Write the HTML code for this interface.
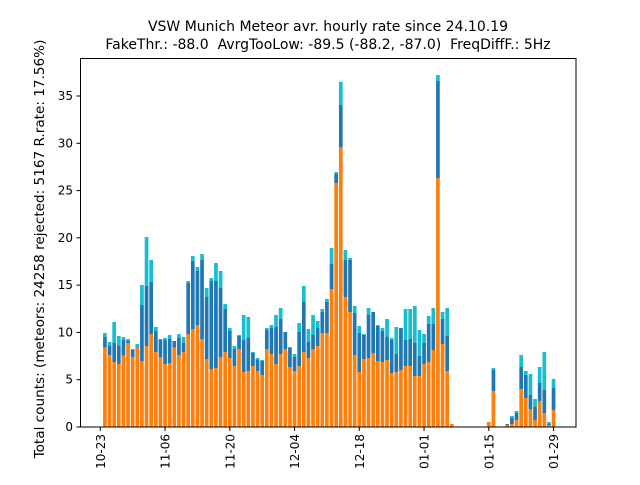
<!DOCTYPE html>
<html><head><meta charset="utf-8"><style>
html,body{margin:0;padding:0;background:#fff;}
svg text{font-family:"DejaVu Sans","Liberation Sans",sans-serif;fill:#000;white-space:pre;}
</style></head><body>
<svg id="s" width="640" height="480" xmlns="http://www.w3.org/2000/svg">
<rect width="640" height="480" fill="#fff"/>
<g id="bars"></g>
<rect x="80.5" y="58.5" width="495.5" height="368.5" fill="none" stroke="#000" stroke-width="1"/>
<text x="328" y="31" font-size="14" text-anchor="middle">VSW Munich Meteor avr. hourly rate since 24.10.19</text>
<text x="328" y="49" font-size="14" text-anchor="middle" xml:space="preserve">FakeThr.: -88.0&#160; AvrgTooLow: -89.5 (-88.2, -87.0)&#160; FreqDiffF.: 5Hz</text>
<text transform="translate(44,249) rotate(-90)" font-size="13.6" text-anchor="middle">Total counts: (meteors: 24258 rejected: 5167 R.rate: 17.56%)</text>
<g id="ax"></g>
</svg>
<script>
var z1=[[383,351,339],[405,377,366],[426,369,306],[432,377,348],[407,360,351],[369,362,357],[411,390,387],[383,380,372],[423,255,195],[378,198,51],[342,186,120],[396,333,321],[411,359,357],[432,359,354],[429,357,345],[383,363,363],[405,354,342],[396,369,351],[342,189,183],[327,123,108],[315,153,141],[357,120,102],[417,231,204],[447,183,174],[444,183,129],[411,204,153],[396,267,252],[414,333,324],[438,387,378],[387,348,345],[456,360,285],[453,354,291],[438,399,396]];
var z2=[[873,838,834],[885,843,840],[807,750,744],[822,744,735],[852,741,705],[822,717,684],[807,756,756],[861,804,801],[873,831,822],[858,756,729],[816,666,618],[834,786,747],[807,765,705],[798,744,723],[759,696,687],[759,666,657],[627,552,504],[309,282,276],[201,75,6],[651,540,510],[696,540,534],[825,699,678],[876,759,738],[837,765,762],[834,705,684],[819,696,696],[843,738,735],[846,753,744],[840,771,717],[879,780,774],[876,822,741],[870,744,744],[858,780,687],[858,777,687],[888,789,678],[888,828,750],[852,789,762],[846,732,708],[810,732,684],[294,3,-15],[792,717,696],[873,768,684],[1032,1032,1032]];
var z3=[[84,246,246,246],[85,153,90,84],[88,255,252,252],[89,252,234,228],[90,240,219,213],[91,147,81,45],[92,174,105,93],[93,207,165,102],[94,240,201,177],[95,183,129,81],[96,219,150,36],[97,255,252,246],[98,210,144,117]];
var bars=[];
z1.forEach(function(b,i){bars.push([i+1,b[0]/3+220,b[1]/3+220,b[2]/3+220]);});
z2.forEach(function(b,i){bars.push([i+34,b[0]/3+80,b[1]/3+80,b[2]/3+80]);});
z3.forEach(function(b){bars.push([b[0],b[1]/3+340,b[2]/3+340,b[3]/3+340]);});
var base=427,h='';
function X(d){return 100.3+d*4.625;}
bars.forEach(function(b){
 var x=X(b[0])-1.85,w=3.7;
 h+='<rect x="'+x+'" y="'+b[3]+'" width="'+w+'" height="'+(b[2]-b[3])+'" fill="#17becf"/>';
 h+='<rect x="'+x+'" y="'+b[2]+'" width="'+w+'" height="'+(b[1]-b[2])+'" fill="#1f77b4"/>';
 h+='<rect x="'+x+'" y="'+b[1]+'" width="'+w+'" height="'+(base-b[1])+'" fill="#ff7f0e"/>';
});
document.getElementById('bars').innerHTML=h;
var a='';
for(var v=0;v<=35;v+=5){var y=427-v*9.457;
 a+='<line x1="76.5" x2="80.5" y1="'+y+'" y2="'+y+'" stroke="#000"/>';
 a+='<text x="73" y="'+(y+4)+'" font-size="12" text-anchor="end">'+v+'</text>';}
var labs=['10-23','11-06','11-20','12-04','12-18','01-01','01-15','01-29'];
labs.forEach(function(l,i){var x=X(i*14);
 a+='<line x1="'+x+'" x2="'+x+'" y1="427" y2="431" stroke="#000"/>';
 a+='<text transform="translate('+(x+4.5)+',434) rotate(-90)" font-size="12" text-anchor="end">'+l+'</text>';});
document.getElementById('ax').innerHTML=a;
</script>
</body></html>
